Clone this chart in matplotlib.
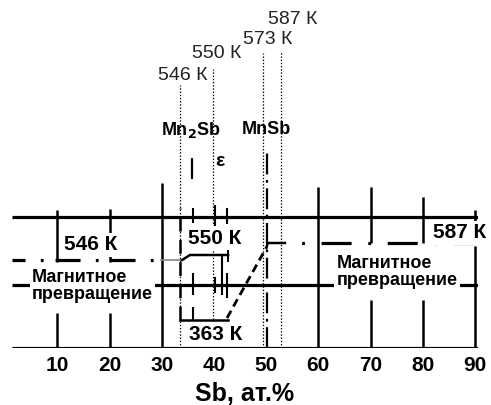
import matplotlib.pyplot as plt

plt.rcParams['font.family'] = ['Liberation Sans', 'DejaVu Sans']
plt.rcParams['lines.scale_dashes'] = False

# x in at.% Sb, y in arbitrary schematic units (0 = base line)
x_min, x_max = 1.3, 90.6
tick_vals = [10, 20, 30, 40, 50, 60, 70, 80, 90]
top_level = 131
mid_level = 63

# Curie points (dotted lines and labels on top)
curie_x = [33.5, 39.8, 49.4, 52.8]
curie_top = [263, 279, 295, 297]
curie_labels = ['546 К', '550 К', '573 К', '587 К']
curie_lab_x = [34.0, 40.5, 50.3, 55.1]
curie_lab_y = [273, 294, 308, 328]

# magnetic transition lines
left_x, left_y = [1.3, 29.8], [88, 88]
grey_x, grey_y = [29.8, 33.9], [88, 88]
eps_x, eps_y = [33.9, 35.4, 42.7], [88, 93, 93]
low_x, low_y = [33.5, 42.7], [28, 28]
diag_x, diag_y = [42.5, 50.1], [30, 101]
step_x, step_y = [50.1, 50.3, 53.6], [101, 105, 105]
right_x, right_y = [53.6, 90.0], [105, 105]

# solid vertical lines
grid_x = [10, 10, 20, 20, 30, 60, 70, 70, 80, 80, 90, 90]
grid_lo = [86, 0, 86, 0, 0, 0, 105, 0, 105, 0, 123, 0]
grid_hi = [138, 35, 139, 35, 165, 161, 161, 48, 151, 48, 138, 102]

# short ticks in the Mn2Sb - epsilon region
tick_x = [36.0, 36.0, 36.0, 42.5, 42.5, 42.7, 41.5, 40.2, 40.2]
tick_lo = [125, 53, 28, 124, 50, 86, 53, 118, 55]
tick_hi = [140, 75, 41, 140, 75, 100, 93, 143, 71]

# compounds (dash-dot lines)
comp_x = [35.8, 50.1]
comp_lo = [169, 0]
comp_hi = [195, 196]
comp_labels = ['Mn$_\\mathbf{2}$Sb', 'MnSb']
comp_lab_x = [35.5, 50.0]
comp_lab_y = [218, 218]

# bold temperature labels inside the diagram
temp_labels = ['546 К', '550 К', '363 К', '587 К']
temp_x = [16.4, 40.2, 40.4, 87.1]
temp_y = [103, 110, 14, 115]

fig = plt.figure(figsize=(4.91, 4.05), dpi=100)
ax = fig.add_axes([12 / 491, 57 / 405, 466 / 491, 348 / 405])
ax.set_xlim(x_min, x_max)
ax.set_ylim(0, 348)
for s in ax.spines.values():
    s.set_visible(False)
ax.set_yticks([])

box = dict(facecolor='white', edgecolor='none', pad=1.5)

# horizontal lines
ax.hlines([0, top_level, mid_level], x_min, x_max, color='black', lw=2.3, zorder=2)

ax.vlines(grid_x, grid_lo, grid_hi, color='black', lw=1.8, zorder=2)
ax.vlines(tick_x, tick_lo, tick_hi, color='black', lw=1.5, zorder=2)
ax.vlines(33.5, 28, 140, color='black', lw=1.8, linestyles=(0, (10, 6)), zorder=2)

ax.vlines(curie_x, 0, curie_top, color='black', lw=0.9, linestyles=(0, (1, 1.3)), zorder=3)
for t, x, y in zip(curie_labels, curie_lab_x, curie_lab_y):
    ax.text(x, y, t, fontsize=14, ha='center', va='center', color='#222222')

ax.vlines(comp_x, comp_lo, comp_hi, color='black', lw=1.6, linestyles=(0, (15, 4, 2, 4)), zorder=3)
for t, x, y in zip(comp_labels, comp_lab_x, comp_lab_y):
    ax.text(x, y, t, fontsize=13, fontweight='bold', ha='center', va='center')
ax.text(41.1, 186, 'ε', fontsize=14, fontweight='bold', ha='center', va='center')

ax.plot(left_x, left_y, color='black', lw=2.3, linestyle=(8.6, (18, 11, 2, 8.6)), zorder=3)
ax.plot(grey_x, grey_y, color='#888888', lw=1.2, zorder=3)
ax.plot(eps_x, eps_y, color='black', lw=1.8, zorder=3)
ax.plot(low_x, low_y, color='black', lw=1.8, zorder=3)
ax.plot(diag_x, diag_y, color='black', lw=2.0, linestyle=(0, (6, 3.5)), zorder=3)
ax.plot(step_x, step_y, color='black', lw=1.8, zorder=3)
ax.plot(right_x, right_y, color='black', lw=2.3, linestyle=(21.6, (21.6, 12, 2, 12)), zorder=3)

for t, x, y in zip(temp_labels, temp_x, temp_y):
    ax.text(x, y, t, fontsize=15, fontweight='bold', ha='center', va='center', bbox=box, zorder=4)

ax.text(5.1, 62, 'Магнитное\nпревращение', fontsize=13, fontweight='bold', ha='left', va='center',
        linespacing=0.95, bbox=box, zorder=4)
ax.text(63.5, 76, 'Магнитное\nпревращение', fontsize=13, fontweight='bold', ha='left', va='center',
        linespacing=0.95, bbox=box, zorder=4)

ax.set_xticks(tick_vals)
ax.set_xticklabels([str(v) for v in tick_vals], fontsize=15, fontweight='bold')
ax.tick_params(axis='x', length=0, pad=6)
ax.set_xlabel('Sb, ат.%', fontsize=18, fontweight='bold', labelpad=5)

fig.savefig('out.png', dpi=100)
